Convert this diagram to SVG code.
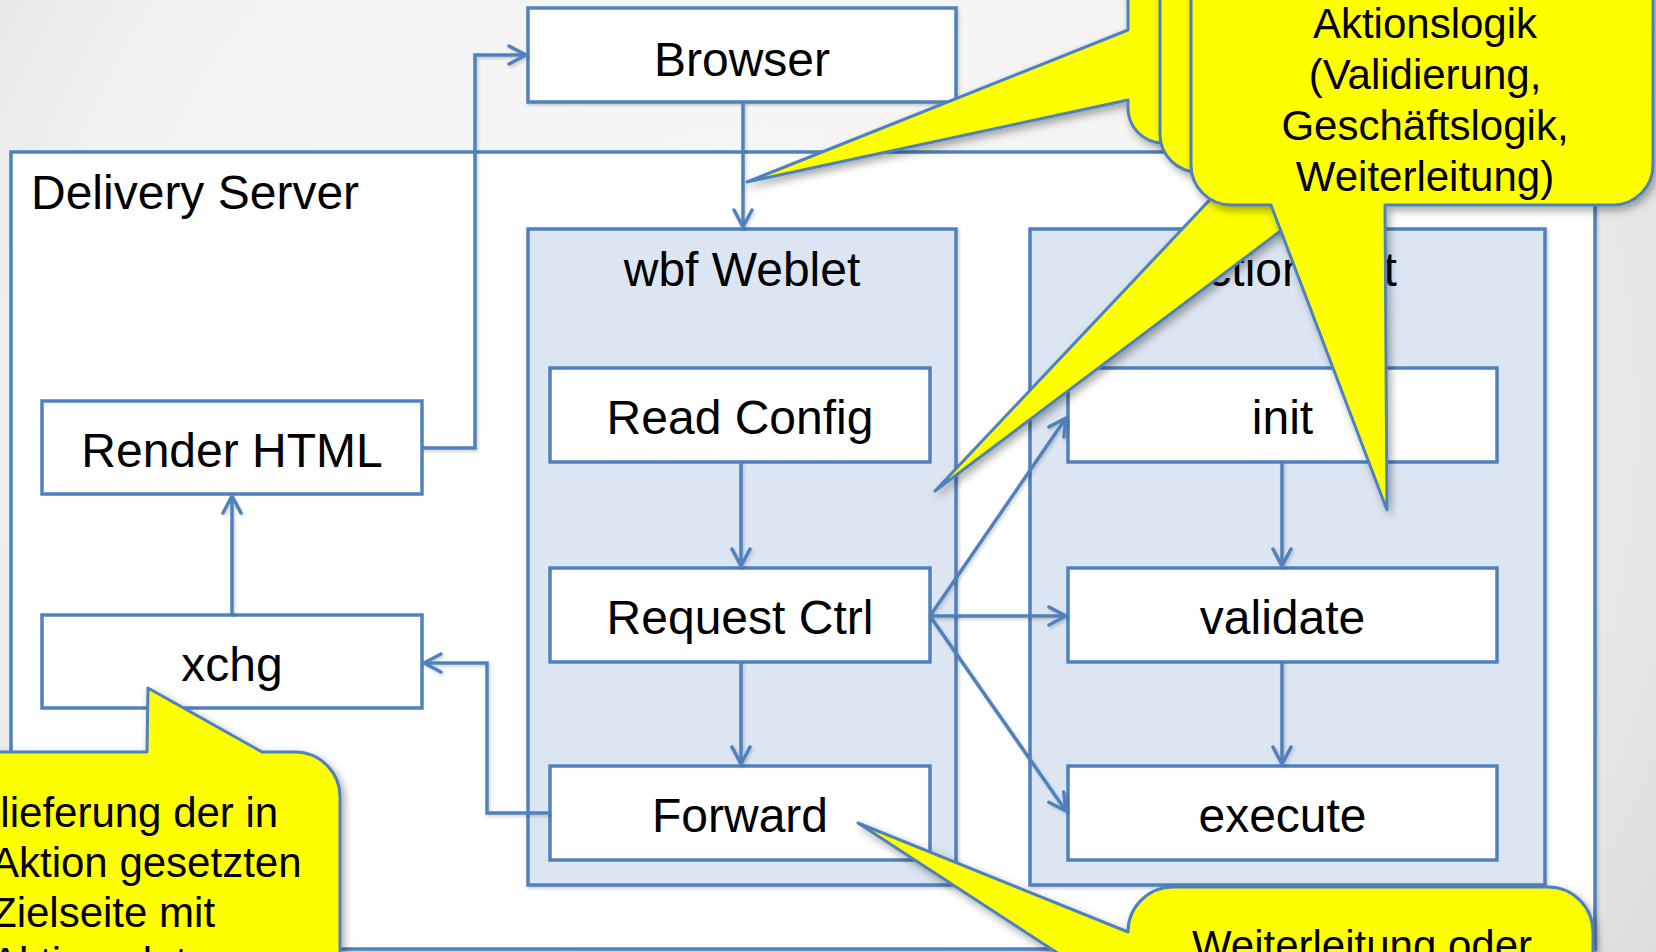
<svg xmlns="http://www.w3.org/2000/svg" width="1656" height="952" viewBox="0 0 1656 952">
<defs>
<radialGradient id="bg" cx="760" cy="420" r="1150" gradientUnits="userSpaceOnUse">
<stop offset="0" stop-color="#f8f8f8"/>
<stop offset="0.62" stop-color="#f2f2f2"/>
<stop offset="1" stop-color="#d6d6d6"/>
</radialGradient>
<marker id="arr" viewBox="0 0 22 22" refX="19" refY="11" markerWidth="22" markerHeight="22" markerUnits="userSpaceOnUse" orient="auto">
<path d="M2,2 L19,11 L2,20" fill="none" stroke="#4f81bd" stroke-width="3.5" stroke-linecap="round" stroke-linejoin="round"/>
</marker>
<filter id="sh" x="-20%" y="-20%" width="140%" height="140%">
<feDropShadow dx="3" dy="4" stdDeviation="4" flood-color="#000" flood-opacity="0.35"/>
</filter>
<filter id="lsh" x="-5%" y="-5%" width="110%" height="110%">
<feDropShadow dx="1.5" dy="2" stdDeviation="1.5" flood-color="#000" flood-opacity="0.18"/>
</filter>
</defs>
<style>
.box{fill:#ffffff;stroke:#4f81bd;stroke-width:3.5}
.cont{fill:#dce6f2;stroke:#4f81bd;stroke-width:3.5}
.lbl{font-family:"Liberation Sans",Arial,sans-serif;font-size:48px;fill:#000;text-anchor:middle}
.con{fill:none;stroke:#4f81bd;stroke-width:3.5;marker-end:url(#arr)}
.call{fill:#ffff00;stroke:#4f81bd;stroke-width:3;stroke-linejoin:round}
.ct{font-family:"Liberation Sans",Arial,sans-serif;font-size:42px;fill:#000}
</style>
<rect x="0" y="0" width="1656" height="952" fill="url(#bg)"/>

<g id="delivery-server">
<rect x="11" y="152" width="1584" height="797" class="box" filter="url(#lsh)"/>
<text x="31" y="209" class="lbl" style="text-anchor:start">Delivery Server</text>
</g>

<g id="wbf-weblet">
<rect x="528" y="229" width="428" height="656" class="cont" filter="url(#lsh)"/>
<text x="742" y="286" class="lbl">wbf Weblet</text>
</g>

<g id="action-list">
<rect x="1030" y="229" width="515" height="656" class="cont" filter="url(#lsh)"/>
<text x="1286" y="286" class="lbl">Action List</text>
</g>

<g id="browser">
<rect x="528" y="8" width="428" height="94" class="box" filter="url(#lsh)"/>
<text x="742" y="76" class="lbl">Browser</text>
</g>

<g id="render-html">
<rect x="42" y="401" width="380" height="93" class="box"/>
<text x="232" y="467" class="lbl">Render HTML</text>
</g>

<g id="xchg">
<rect x="42" y="615" width="380" height="93" class="box"/>
<text x="232" y="681" class="lbl">xchg</text>
</g>

<g id="read-config">
<rect x="550" y="368" width="380" height="94" class="box"/>
<text x="740" y="434" class="lbl">Read Config</text>
</g>

<g id="request-ctrl">
<rect x="550" y="568" width="380" height="94" class="box"/>
<text x="740" y="634" class="lbl">Request Ctrl</text>
</g>

<g id="forward">
<rect x="550" y="766" width="380" height="94" class="box"/>
<text x="740" y="832" class="lbl">Forward</text>
</g>

<g id="init">
<rect x="1068" y="368" width="429" height="94" class="box"/>
<text x="1282.5" y="434" class="lbl">init</text>
</g>

<g id="validate">
<rect x="1068" y="568" width="429" height="94" class="box"/>
<text x="1282.5" y="634" class="lbl">validate</text>
</g>

<g id="execute">
<rect x="1068" y="766" width="429" height="94" class="box"/>
<text x="1282.5" y="832" class="lbl">execute</text>
</g>

<g id="connectors" filter="url(#lsh)">
<path class="con" d="M422 448 H475 V55 H526"/>
<path class="con" d="M743 102 V227"/>
<path class="con" d="M232 615 V496"/>
<path class="con" d="M550 813 H487 V663 H424"/>
<path class="con" d="M741 462 V566"/>
<path class="con" d="M741 662 V764"/>
<path class="con" d="M1282 462 V566"/>
<path class="con" d="M1282 662 V764"/>
<path class="con" d="M930 616 L1066 418"/>
<path class="con" d="M930 616 L1066 616"/>
<path class="con" d="M930 616 L1066 811"/>
</g>

<g id="callout-back">
<path class="call" filter="url(#sh)" d="M1128 -60 L1128 30 L747 182 L1128 100 L1128 108 A35 35 0 0 0 1163 143 L1620 143 L1620 -60 Z"/>
</g>

<g id="callout-middle">
<path class="call" filter="url(#sh)" d="M1160 -60 L1160 134 A38 38 0 0 0 1198 172 L1236 172 L935 491 L1359 172 L1620 172 L1620 -60 Z"/>
</g>

<g id="callout-front">
<path class="call" filter="url(#sh)" d="M1191 -60 L1191 165 A40 40 0 0 0 1231 205 L1271 205 L1387 510 L1385 205 L1613 205 A40 40 0 0 0 1653 165 L1653 -60 Z"/>
<text class="ct" text-anchor="middle"><tspan x="1425" y="38">Aktionslogik</tspan><tspan x="1425" y="89">(Validierung,</tspan><tspan x="1425" y="140">Geschäftslogik,</tspan><tspan x="1425" y="191">Weiterleitung)</tspan></text>
</g>

<g id="callout-bottom">
<path class="call" filter="url(#sh)" d="M1128 1100 L1128 999 L858 823 L1128 932 A45 45 0 0 1 1173 887 L1548 887 A45 45 0 0 1 1593 932 L1593 1100 Z"/>
<text class="ct" x="1362" y="960" text-anchor="middle">Weiterleitung oder</text>
</g>

<g id="callout-left">
<path class="call" filter="url(#sh)" d="M-60 752 L147 752 L148 688 L262 752 L295 752 A45 45 0 0 1 340 797 L340 1100 L-60 1100 Z"/>
<text class="ct"><tspan x="-72" y="827">Auslieferung der in</tspan><tspan x="-9" y="877">Aktion gesetzten</tspan><tspan x="-9" y="927">Zielseite mit</tspan><tspan x="-9" y="977">Aktionsdaten</tspan></text>
</g>
</svg>
